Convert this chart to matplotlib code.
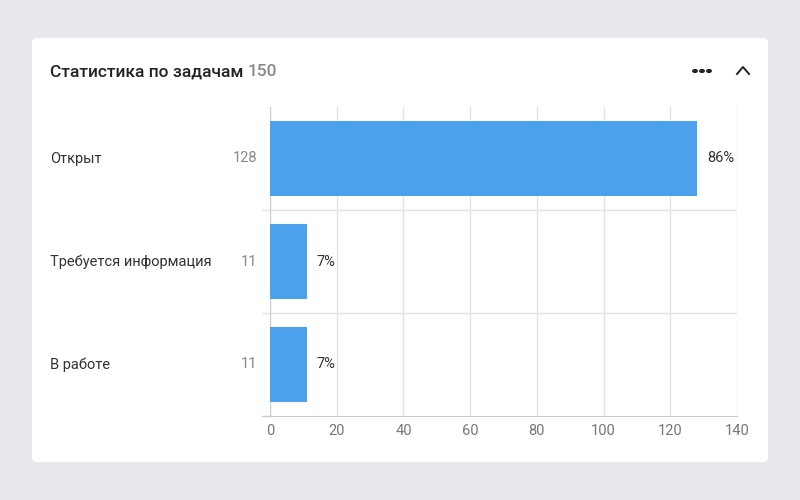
import matplotlib
matplotlib.use("Agg")
import matplotlib.pyplot as plt
from matplotlib.patches import FancyBboxPatch

categories = ["Открыт", "Требуется информация", "В работе"]
values = [128, 11, 11]
percents = ["86%", "7%", "7%"]
total = 150
xticks = [0, 20, 40, 60, 80, 100, 120, 140]

plt.rcParams['font.family'] = ['Roboto', 'DejaVu Sans']
fig = plt.figure(figsize=(8, 5), dpi=100)
fig.patch.set_facecolor('#e8e9ed')
card = FancyBboxPatch((32/800, 38/500), 736/800, 424/500, boxstyle="round,pad=0,rounding_size=0.008",
                      transform=fig.transFigure, facecolor='white', edgecolor='none', zorder=-5)
fig.patches.append(card)

ax = fig.add_axes([270/800, 1-416/500, 467/800, 309/500])
ax.set_zorder(5)
ax.set_facecolor('none')
n = len(categories)
ys = list(range(n))
ax.barh(ys, values, height=0.72, color='#4ba1ec', zorder=3)
ax.set_xlim(0, 140)
ax.set_ylim(n-0.5, -0.5)
ax.set_xticks(xticks)
ax.set_xticklabels([str(t) for t in xticks], color='#777777', fontsize=10.5)
ax.tick_params(axis='x', length=0, pad=6)
ax.set_yticks([])
ax.grid(axis='x', color='#e3e3e3', lw=1, zorder=0)
for s in ['top', 'right']:
    ax.spines[s].set_visible(False)
for s in ['left', 'bottom']:
    ax.spines[s].set_color('#cccccc')
for i in range(1, n):
    ax.axhline(i-0.5, color='#e3e3e3', lw=1, zorder=1)
    ax.plot([-8/467*140, 0], [i-0.5, i-0.5], color='#e3e3e3', lw=1, clip_on=False)
ax.plot([-8/467*140, 0], [n-0.5, n-0.5], color='#cccccc', lw=1, clip_on=False)

for i, (c, v, p) in enumerate(zip(categories, values, percents)):
    ax.text(v + 3, i, p, va='center', ha='left', fontsize=10.5, color='#333333')
    yf = ax.transData.transform((0, i))[1]/500
    fig.text(50/800, yf, c, va='center', ha='left', fontsize=10.5, color='#333333')
    fig.text(257/800, yf, str(v), va='center', ha='right', fontsize=10.5, color='#888888')

t = fig.text(50/800, 1-72/500, "Статистика по задачам ", fontsize=12.5, color='#222222',
             va='center', ha='left', fontweight='medium')
fig.canvas.draw()
bb = t.get_window_extent()
fig.text(bb.x1/800, 1-72/500, str(total), fontsize=12.5, color='#888888', va='center', ha='left',
         fontweight='medium')
for dx in (-7, 0, 7):
    fig.patches.append(plt.Circle(((702+dx)/800, 1-71/500), 2.2/800, transform=fig.transFigure,
                                  color='#222222'))
fig.lines.append(plt.Line2D([737/800, 743/800, 749/800], [1-74/500, 1-67/500, 1-74/500],
                            transform=fig.transFigure, color='#222222', lw=1.4))
fig.savefig("out.png", dpi=100)
